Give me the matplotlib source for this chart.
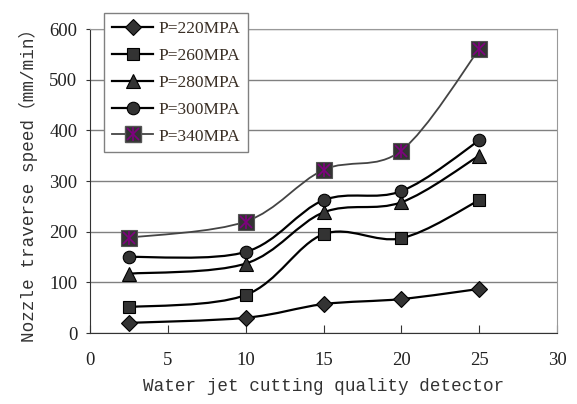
import matplotlib
matplotlib.use("Agg")
import matplotlib.pyplot as plt
from matplotlib.path import Path
from matplotlib.patches import PathPatch
from matplotlib.lines import Line2D
from matplotlib.legend_handler import HandlerTuple
import numpy as np

x = [2.5, 10, 15, 20, 25]
p220 = [20, 30, 57, 67, 87]
p260 = [51, 75, 195, 187, 262]
p280 = [117, 137, 238, 258, 350]
p300 = [150, 160, 262, 280, 380]
p340 = [188, 220, 322, 360, 560]
labels = ["P=220MPA", "P=260MPA", "P=280MPA", "P=300MPA", "P=340MPA"]
xticks = [0, 5, 10, 15, 20, 25, 30]
yticks = [0, 100, 200, 300, 400, 500, 600]

fig = plt.figure(figsize=(5.77, 4.04), dpi=100)
ax = fig.add_axes([90/577, 71/404, 467/577, 304/404])
ax.set_xlim(0, 30)
ax.set_ylim(0, 600)

def smooth_path(xs, ys):
    xs = np.asarray(xs, float); ys = np.asarray(ys, float)
    n = len(xs)
    verts = [(xs[0], ys[0])]
    codes = [Path.MOVETO]
    for i in range(n - 1):
        i0 = max(i - 1, 0); i3 = min(i + 2, n - 1)
        c1 = (xs[i] + (xs[i+1] - xs[i0]) / 6, ys[i] + (ys[i+1] - ys[i0]) / 6)
        c2 = (xs[i+1] - (xs[i3] - xs[i]) / 6, ys[i+1] - (ys[i3] - ys[i]) / 6)
        verts += [c1, c2, (xs[i+1], ys[i+1])]
        codes += [Path.CURVE4] * 3
    return Path(verts, codes)

series = [p220, p260, p280, p300]
markers = ['D', 's', '^', 'o']
msizes = [8.5, 9, 10, 9]
handles = []
for ys, m, ms in zip(series, markers, msizes):
    ax.add_patch(PathPatch(smooth_path(x, ys), fill=False, edgecolor='black', lw=1.6, zorder=3))
    ax.plot(x, ys, linestyle='none', marker=m, ms=ms, mfc='#333333', mec='black', mew=0.8, zorder=4)
    handles.append(Line2D([], [], color='black', lw=1.6, marker=m, ms=ms, mfc='#333333', mec='black', mew=0.8))

ax.add_patch(PathPatch(smooth_path(x, p340), fill=False, edgecolor='#444444', lw=1.3, zorder=3))
ax.plot(x, p340, linestyle='none', marker='s', ms=12, mfc='#333333', mec='#555555', mew=0.8, zorder=4)
ax.plot(x, p340, linestyle='none', marker='x', ms=9, mec='#800080', mew=1.2, zorder=5)
ax.plot(x, p340, linestyle='none', marker='|', ms=10, mec='#800080', mew=1.2, zorder=5)
h_sq = Line2D([], [], color='#444444', lw=1.3, marker='s', ms=12, mfc='#333333', mec='#555555')
h_x = Line2D([], [], linestyle='none', marker='x', ms=9, mec='#800080', mew=1.2)
h_v = Line2D([], [], linestyle='none', marker='|', ms=10, mec='#800080', mew=1.2)
handles.append((h_sq, h_x, h_v))

ax.set_yticks(yticks)
ax.set_xticks(xticks)
ax.yaxis.grid(True, color='#808080', lw=1.0)
ax.set_axisbelow(True)
ax.tick_params(axis='x', direction='in', length=6, color='#333333', pad=14)
ax.tick_params(axis='y', direction='out', length=3, color='#333333', pad=6)
for lab in ax.get_xticklabels() + ax.get_yticklabels():
    lab.set_fontfamily('Liberation Serif')
    lab.set_fontsize(13.5)
    lab.set_color('#222222')
ax.spines['left'].set_color('#333333')
ax.spines['bottom'].set_color('#333333')
ax.spines['top'].set_color('#999999')
ax.spines['right'].set_color('#999999')

ax.set_xlabel('Water jet cutting quality detector', family=['Liberation Mono', 'Noto Sans CJK SC'],
              fontsize=12.7, labelpad=6, color='#333333')
ax.set_ylabel('Nozzle traverse speed（mm/min）', family=['Liberation Mono', 'Noto Sans CJK SC'],
              fontsize=12.7, labelpad=8, color='#333333')

leg = ax.legend(handles, labels, loc='upper left', bbox_to_anchor=(0.03, 1.053), borderaxespad=0,
                prop={'family': 'Liberation Serif', 'size': 12.5}, frameon=True, fancybox=False,
                edgecolor='#808080', framealpha=1, labelspacing=0.62, handlelength=2.4,
                handletextpad=0.3, borderpad=0.45,
                handler_map={tuple: HandlerTuple(ndivide=1)})
for t in leg.get_texts():
    t.set_color('#3a2f25')
leg.get_frame().set_linewidth(1.0)
leg.set_zorder(10)

fig.savefig('out.png', dpi=100)
